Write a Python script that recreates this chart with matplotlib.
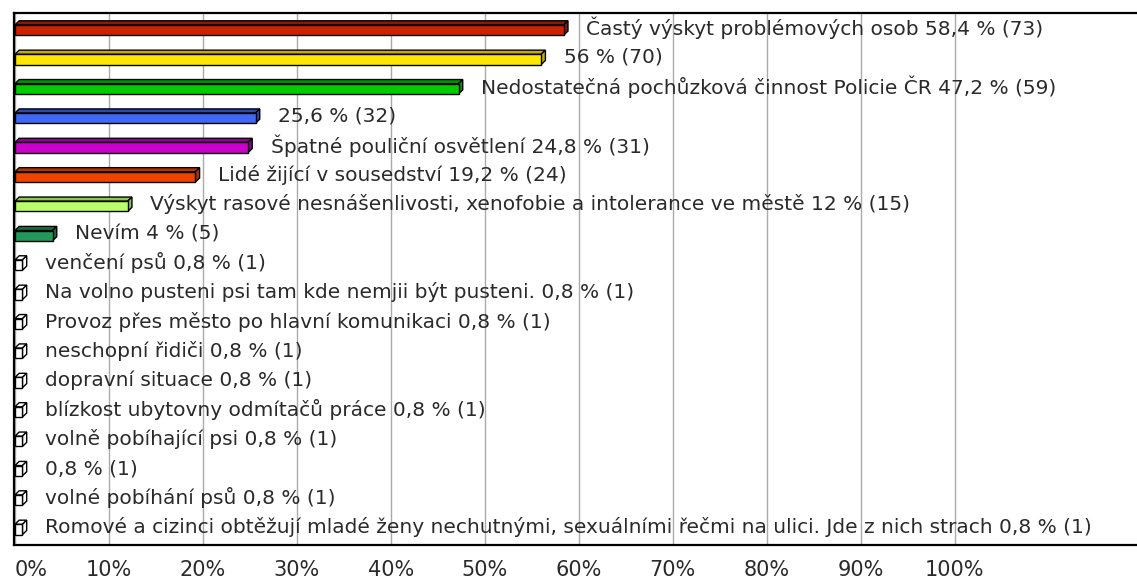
import matplotlib
matplotlib.use("Agg")
import matplotlib.pyplot as plt
import matplotlib.transforms as mtransforms
import numpy as np

# answers with their share of respondents (%) and counts
labels = [
    "Častý výskyt problémových osob",
    "",
    "Nedostatečná pochůzková činnost Policie ČR",
    "",
    "Špatné pouliční osvětlení",
    "Lidé žijící v sousedství",
    "Výskyt rasové nesnášenlivosti, xenofobie a intolerance ve městě",
    "Nevím",
    "venčení psů",
    "Na volno pusteni psi tam kde nemjii být pusteni.",
    "Provoz přes město po hlavní komunikaci",
    "neschopní řidiči",
    "dopravní situace",
    "blízkost ubytovny odmítačů práce",
    "volně pobíhající psi",
    "",
    "volné pobíhání psů",
    "Romové a cizinci obtěžují mladé ženy nechutnými, sexuálními řečmi na ulici. Jde z nich strach",
]
percent = [58.4, 56, 47.2, 25.6, 24.8, 19.2, 12, 4,
           0.8, 0.8, 0.8, 0.8, 0.8, 0.8, 0.8, 0.8, 0.8, 0.8]
counts = [73, 70, 59, 32, 31, 24, 15, 5, 1, 1, 1, 1, 1, 1, 1, 1, 1, 1]

front_colors = ["#CC2200", "#FFE600", "#00CC00", "#4068F4", "#CC00CC",
                "#EE4400", "#BBFF66", "#22995A"] + ["white"] * 10
top_colors = ["#8E1800", "#C2AE00", "#009400", "#2A48B8", "#900090",
              "#B23300", "#8ACC48", "#156E40"] + ["white"] * 10

fig = plt.figure(figsize=(11.37, 5.84), dpi=100)
ax = fig.add_axes([14 / 1137, 1 - 545 / 584, 1 - 14 / 1137, (545 - 13) / 584])

ax.set_xlim(-0.1, 119.4)
ax.set_ylim(17.6, -0.51)

# bar geometry (data units): front face height and 3D depth
h = 0.35
dx = 0.45
dy = 0.14

y = np.arange(len(percent))
for i, v in enumerate(percent):
    yc = y[i] + 0.07
    top = yc - h / 2
    # top face
    ax.fill([0, v, v + dx, dx], [top, top, top - dy, top - dy],
            facecolor=top_colors[i], edgecolor="black", lw=1, zorder=3)
    # side face
    ax.fill([v, v + dx, v + dx, v], [top, top - dy, top + h - dy, top + h],
            facecolor=top_colors[i], edgecolor="black", lw=1, zorder=3)
ax.barh(y + 0.07, percent, height=h, color=front_colors, edgecolor="black",
        lw=1, zorder=4)

for i, v in enumerate(percent):
    pct = f"{v:g}".replace(".", ",")
    txt = f"{labels[i]} {pct} % ({counts[i]})".strip()
    ax.text(v + 2.4, y[i], txt, va="center", ha="left", fontsize=14.5,
            family="DejaVu Sans", color="#2a2a2a", zorder=5)

ax.set_xticks(np.arange(0, 101, 10))
ax.set_xticklabels([f"{t}%" for t in range(0, 101, 10)], fontsize=15,
                   color="#2a2a2a")
shift = mtransforms.ScaledTranslation(-6 / 100, 0, fig.dpi_scale_trans)
for k, lab in enumerate(ax.get_xticklabels()):
    if k == 0:
        lab.set_ha("left")
    else:
        lab.set_transform(lab.get_transform() + shift)
ax.set_yticks([])
ax.tick_params(axis="x", length=0, pad=11)
ax.grid(axis="x", color="#AAAAAA", lw=1, zorder=0)
ax.set_axisbelow(True)
for s in ax.spines.values():
    s.set_linewidth(1.6)
ax.spines["right"].set_visible(False)

fig.savefig("out.png", dpi=100)
